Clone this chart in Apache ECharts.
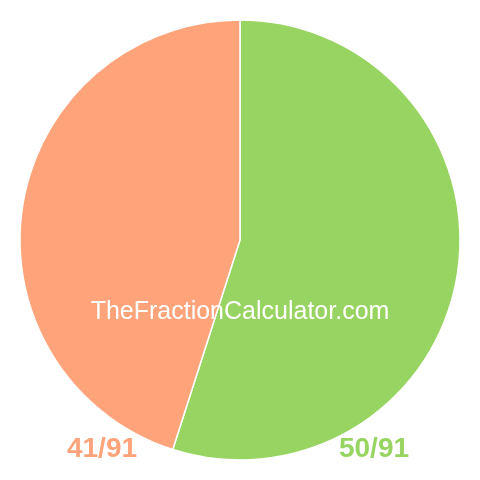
<!DOCTYPE html>
<html><head><meta charset="utf-8">
<script src="https://cdn.jsdelivr.net/npm/echarts@6/dist/echarts.min.js"></script>
<style>html,body{margin:0;padding:0;background:#fff}#c{width:480px;height:480px}</style>
</head><body><div id="c"></div>
<script>
const categories = ['50/91', '41/91'];
const values = [50, 41];
const colors = ['#98D462', '#FFA47A'];
const watermark = 'TheFractionCalculator.com';

const chart = echarts.init(document.getElementById('c'));
chart.setOption({
  animation: false,
  series: [{
    type: 'pie',
    center: [240, 240],
    radius: [0, 220],
    startAngle: 90,
    clockwise: true,
    label: {show: false},
    labelLine: {show: false},
    emphasis: {disabled: true},
    itemStyle: {borderColor: '#fff', borderWidth: 1.5},
    data: categories.map((c, i) => ({name: c, value: values[i], itemStyle: {color: colors[i]}}))
  }],
  graphic: [
    {type: 'text', z: 100, x: 240, y: 312, style: {text: watermark, fill: '#fff', font: '25px "Liberation Sans", Arial, sans-serif', align: 'center', verticalAlign: 'middle'}},
    {type: 'text', z: 100, x: 102, y: 449, style: {text: categories[1], fill: colors[1], font: 'bold 28px "Liberation Sans", Arial, sans-serif', align: 'center', verticalAlign: 'middle'}},
    {type: 'text', z: 100, x: 374, y: 449, style: {text: categories[0], fill: colors[0], font: 'bold 28px "Liberation Sans", Arial, sans-serif', align: 'center', verticalAlign: 'middle'}}
  ]
});
</script></body></html>
